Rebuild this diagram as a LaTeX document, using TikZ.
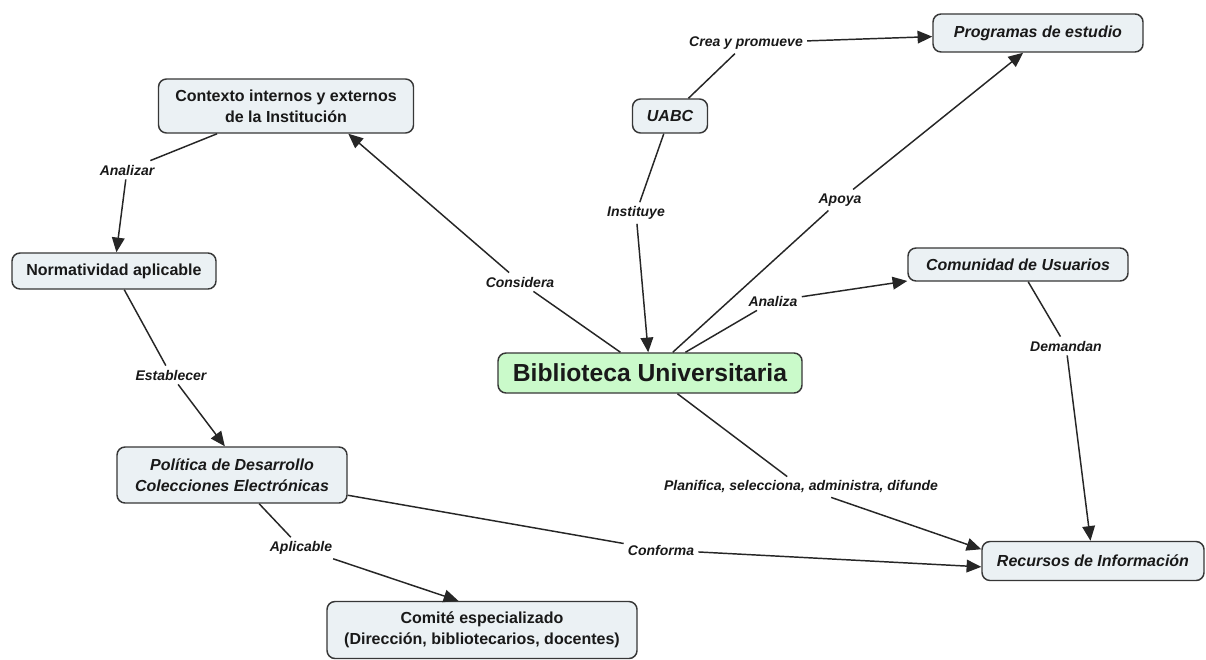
\documentclass[tikz,border=0pt]{standalone}
\usepackage{fontspec}
\setmainfont{Liberation Sans}
\usetikzlibrary{arrows.meta}
\definecolor{nodefill}{RGB}{235,241,244}
\definecolor{nodeborder}{RGB}{55,55,55}
\definecolor{mainfill}{RGB}{202,250,202}
\begin{document}
\begin{tikzpicture}[x=0.75pt,y=-0.75pt,
 concept/.style={draw=nodeborder, line width=1.1pt, rounded corners=6pt, fill=nodefill, align=center,
   font=\fontsize{12}{15.5}\selectfont\bfseries, inner sep=2pt, text=black!90},
 iconcept/.style={concept, font=\fontsize{12}{15.5}\selectfont\bfseries\itshape},
 lab/.style={font=\fontsize{10.5}{12}\selectfont\bfseries\itshape, inner sep=3pt, text=black!90},
 conn/.style={line width=1.1pt, draw=black!85},
 arr/.style={conn, -{Triangle[length=11pt,width=9.5pt]}},
]
\useasboundingbox (0,0) rectangle (1206,660);
\fill[white] (0,0) rectangle (1206,660);

% concepts
\node[concept, minimum width=191.25pt, minimum height=40.5pt] (ctx) at (286,106) {Contexto internos y externos\\de la Institución};
\node[iconcept, minimum width=56.25pt, minimum height=25.5pt] (uabc) at (670,116) {UABC};
\node[iconcept, minimum width=157.5pt, minimum height=28.5pt] (prog) at (1038,33) {Programas de estudio};
\node[concept, minimum width=153pt, minimum height=27pt] (norm) at (114,271) {Normatividad aplicable};
\node[concept, fill=mainfill, minimum width=228pt, minimum height=30pt, font=\fontsize{18.5}{20}\selectfont\bfseries] (bib) at (650,373) {Biblioteca Universitaria};
\node[iconcept, minimum width=165pt, minimum height=24.75pt] (comu) at (1018,264.5) {Comunidad de Usuarios};
\node[iconcept, minimum width=172.5pt, minimum height=42pt] (pol) at (232,475) {Política de Desarrollo\\Colecciones Electrónicas};
\node[concept, minimum width=232.5pt, minimum height=42.75pt] (comite) at (482,630) {Comité especializado\\(Dirección, bibliotecarios, docentes)};
\node[iconcept, minimum width=166.5pt, minimum height=29.25pt] (rec) at (1093,561) {Recursos de Información};

% linking phrases
\node[lab] (l1) at (746,43) {Crea y promueve};
\node[lab] (l2) at (636,213) {Instituye};
\node[lab] (l3) at (520,282) {Considera};
\node[lab] (l4) at (840,200) {Apoya};
\node[lab] (l5) at (773,301) {Analiza};
\node[lab] (l6) at (801,487) {Planifica, selecciona, administra, difunde};
\node[lab] (l7) at (127,170) {Analizar};
\node[lab] (l8) at (171,375) {Establecer};
\node[lab] (l9) at (1066,346) {Demandan};
\node[lab] (l10) at (661,550) {Conforma};
\node[lab] (l11) at (301,548) {Aplicable};

% connectors
\draw[conn] (uabc) -- (l1); \draw[arr] (l1) -- (prog);
\draw[conn] (uabc) -- (l2); \draw[arr] (l2) -- (bib);
\draw[conn] (bib) -- (l3); \draw[arr] (l3) -- (ctx.-24);
\draw[conn] (bib) -- (l4); \draw[arr] (l4) -- (prog.-127);
\draw[conn] (bib) -- (l5); \draw[arr] (l5) -- (comu);
\draw[conn] (bib) -- (l6); \draw[arr] (l6) -- (rec.174);
\draw[conn] (ctx) -- (l7); \draw[arr] (l7) -- (norm);
\draw[conn] (norm) -- (l8); \draw[arr] (l8) -- (pol.104);
\draw[conn] (comu) -- (l9); \draw[arr] (l9) -- (rec);
\draw[conn] (pol) -- (l10); \draw[arr] (l10) -- (rec.-177);
\draw[conn] (pol) -- (l11); \draw[arr] (l11) -- (comite.129);
\end{tikzpicture}
\end{document}
